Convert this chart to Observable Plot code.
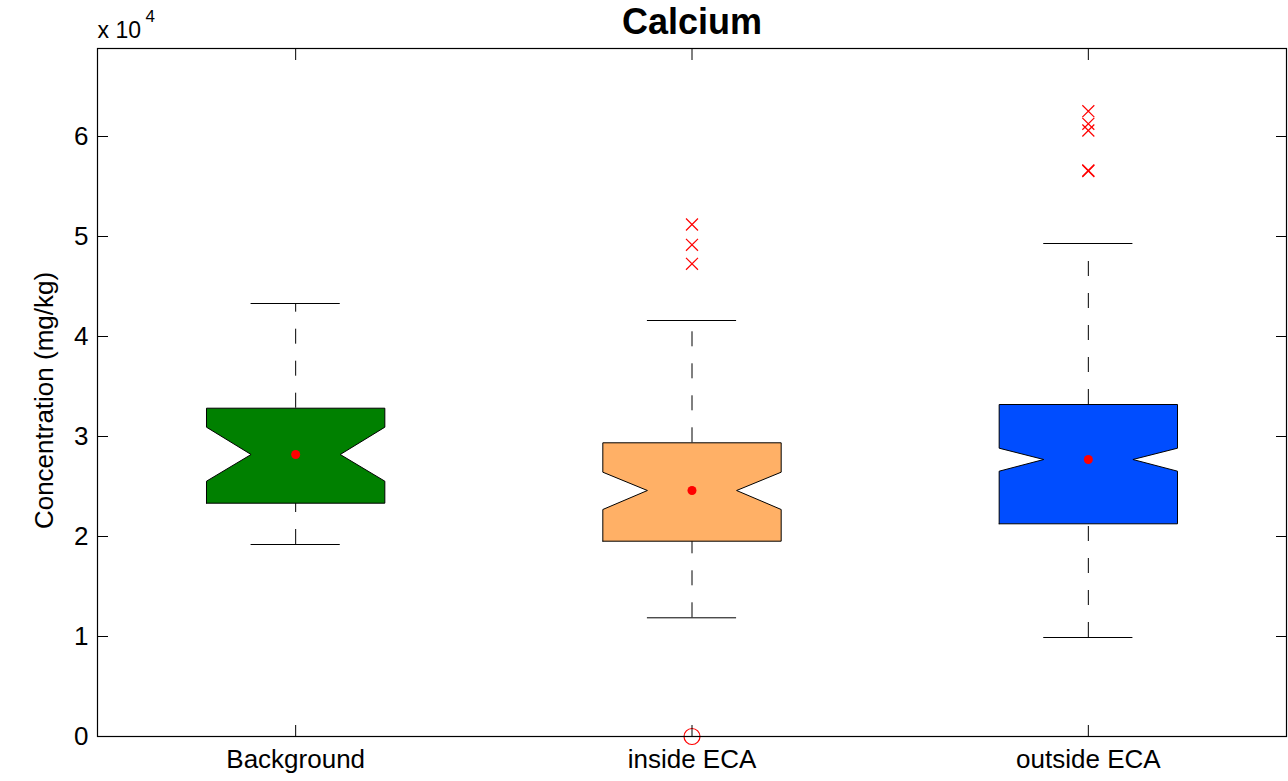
<!DOCTYPE html>
<html><head><meta charset="utf-8">
<script src="https://cdn.jsdelivr.net/npm/d3@7"></script>
<script src="https://cdn.jsdelivr.net/npm/@observablehq/plot@0.6"></script>
<style>body{margin:0;background:#fff}</style>
</head><body><div id="chart"></div>
<script>
const groups = ["Background", "inside ECA", "outside ECA"];
const colors = ["#008000", "#FFB066", "#004DFF"];
const whiskerLo = [19200, 11870, 9900];
const q1 = [23330, 19530, 21270];
const notchLo = [25530, 22700, 26530];
const median = [28200, 24600, 27700];
const notchHi = [30930, 26430, 28830];
const q3 = [32830, 29370, 33200];
const whiskerHi = [43300, 41600, 49300];
const means = [28200, 24600, 27700];
const outlierGroup = [2, 2, 2, 3, 3, 3, 3, 3];
const outlierValue = [51200, 49170, 47270, 62530, 61270, 60600, 56600, 56550];
const lowOutlierGroup = [2];
const lowOutlierValue = [0];
const yTicks = [0, 10000, 20000, 30000, 40000, 50000, 60000];
const xTicks = [1, 2, 3];

const hw = 0.225, nw = 0.1125, cw = 0.1125;
const idx = groups.map((g, i) => i);
function notchPoly(i) {
  const x = i + 1;
  return [
    [x - hw, q1[i]], [x - hw, notchLo[i]], [x - nw, median[i]], [x - hw, notchHi[i]], [x - hw, q3[i]],
    [x + hw, q3[i]], [x + hw, notchHi[i]], [x + nw, median[i]], [x + hw, notchLo[i]], [x + hw, q1[i]],
    [x - hw, q1[i]]
  ].map(([px, py]) => ({px, py}));
}
const outliers = outlierGroup.map((g, i) => ({g, v: outlierValue[i]}));
const lowOutliers = lowOutlierGroup.map((g, i) => ({g, v: lowOutlierValue[i]}));

const chart = Plot.plot({
  width: 1288, height: 781,
  marginLeft: 97, marginRight: 2, marginTop: 48, marginBottom: 45,
  x: {domain: [0.5, 3.5]},
  y: {domain: [0, 68800]},
  style: {fontFamily: "'Liberation Sans', Arial, sans-serif", fontSize: "26px", color: "black", background: "white"},
  marks: [
    // whiskers
    Plot.ruleX(idx, {x: i => i + 1, y1: i => q3[i], y2: i => whiskerHi[i], stroke: "black", strokeDasharray: "15,17"}),
    Plot.ruleX(idx, {x: i => i + 1, y1: i => whiskerLo[i], y2: i => q1[i], stroke: "black", strokeDasharray: "15,17"}),
    Plot.ruleY(idx, {y: i => whiskerHi[i], x1: i => i + 1 - cw, x2: i => i + 1 + cw, stroke: "black"}),
    Plot.ruleY(idx, {y: i => whiskerLo[i], x1: i => i + 1 - cw, x2: i => i + 1 + cw, stroke: "black"}),
    // notched boxes
    ...idx.map(i => Plot.line(notchPoly(i), {x: "px", y: "py", fill: colors[i], stroke: "black", strokeWidth: 1})),
    // means
    Plot.dot(idx, {x: i => i + 1, y: i => means[i], r: 4.5, fill: "red", stroke: null}),
    // outliers
    Plot.dot(outliers, {x: "g", y: "v", symbol: "times", r: 5.5, stroke: "red", strokeWidth: 1.2}),
    Plot.dot(lowOutliers, {x: "g", y: "v", symbol: "circle", r: 8, stroke: "red", fill: "none", strokeWidth: 1.2}),
    // axes
    Plot.axisY(yTicks, {tickSize: 0, tickPadding: 9, tickFormat: d => d / 1e4, fontSize: 26, label: null}),
    Plot.axisY(yTicks, {tickSize: -11, tickFormat: () => "", label: null}),
    Plot.axisY(yTicks, {anchor: "right", tickSize: -11, tickFormat: () => "", label: null}),
    Plot.axisX(xTicks, {tickSize: 0, tickPadding: 13.5, tickFormat: d => groups[d - 1], fontSize: 26, label: null}),
    Plot.axisX(xTicks, {tickSize: -11, tickFormat: () => "", label: null}),
    Plot.axisX(xTicks, {anchor: "top", tickSize: -11, tickFormat: () => "", label: null}),
    Plot.frame({stroke: "black", strokeWidth: 1.2}),
    // texts
    Plot.text(["Calcium"], {text: d => d, frameAnchor: "top", lineAnchor: "top", dy: -40.5, fontSize: 36, fontWeight: "bold"}),
    Plot.text(["x 10"], {text: d => d, frameAnchor: "top-left", textAnchor: "start", lineAnchor: "top", dy: -27, fontSize: 23}),
    Plot.text(["4"], {text: d => d, frameAnchor: "top-left", textAnchor: "start", lineAnchor: "top", dx: 48, dy: -39, fontSize: 17}),
    Plot.text(["Concentration (mg/kg)"], {text: d => d, frameAnchor: "left", textAnchor: "middle", lineAnchor: "middle", rotate: -90, dx: -53, dy: 8, fontSize: 26})
  ]
});
document.getElementById("chart").appendChild(chart);
</script>
</body></html>
